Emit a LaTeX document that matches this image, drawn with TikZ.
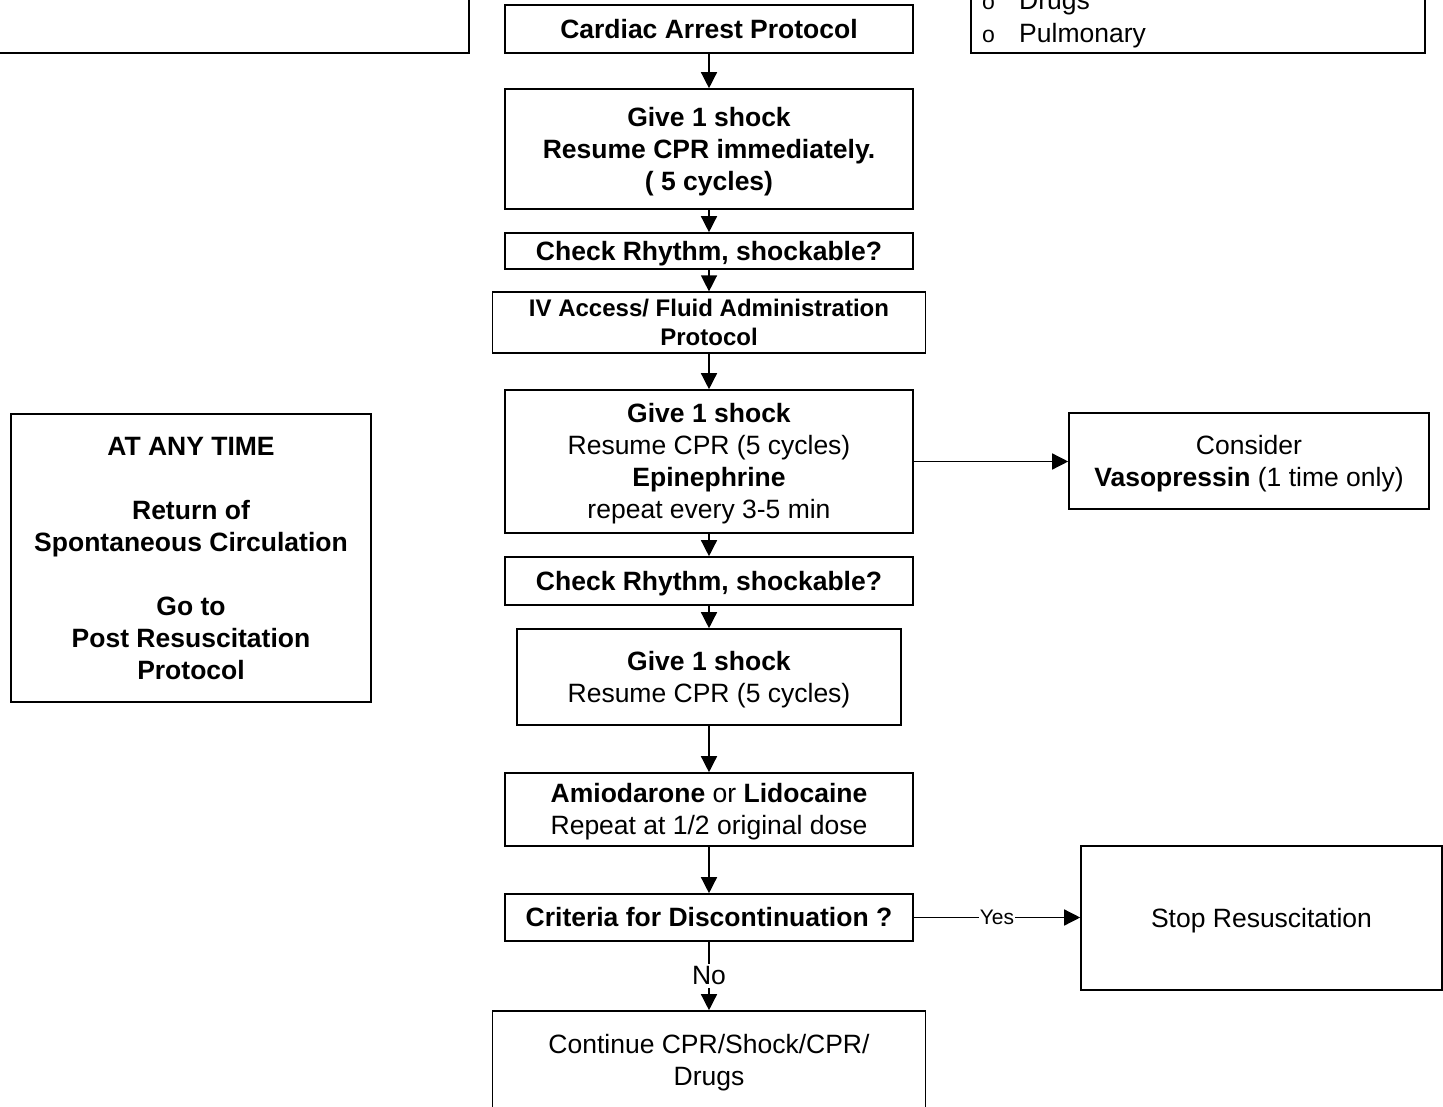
\documentclass[tikz,border=0pt]{standalone}
\usepackage{fontspec}
\setmainfont{Liberation Sans}
\usetikzlibrary{arrows.meta}
\newcommand\bodyfont{\fontsize{26.5}{32}\selectfont}
\newcommand\ivfont{\fontsize{24}{29}\selectfont}
\newcommand\yesfont{\fontsize{21}{25}\selectfont}
\newcommand\bulfont{\fontsize{23}{28}\selectfont}
% invisible rules that centre the capitals of a text block in its box
\newcommand\capstrutabove{\rule{0pt}{1.016em}}
\newcommand\capstrutbelow{\rule[-0.3em]{0pt}{0.3em}}

\begin{document}
\begin{tikzpicture}[x=1pt,y=-1pt,
  box/.style={draw, line width=1.6pt, rectangle, inner sep=0pt, align=center, font=\bodyfont,
    execute at begin node=\capstrutabove, execute at end node=\capstrutbelow},
  arr/.style={-{Triangle[length=16pt,width=16pt]}, line width=1.4pt},
  lbl/.style={fill=white, inner sep=2pt},
  item/.style={anchor=base west, inner sep=0pt, font=\bodyfont}]
\useasboundingbox (0,0) rectangle (1443,1107);
\clip (0,0) rectangle (1443,1107);

% boxes running off the top edge
\node[box, minimum width=479pt, minimum height=113pt] (notes) at (229.5,-3.5) {};
\node[box, minimum width=454pt, minimum height=113pt] (causes) at (1198,-3.5) {};
\node[item, font=\bulfont] (bulA) at (982,10) {o};
\node[item] (drugs) at (1019,10) {Drugs};
\node[item, font=\bulfont] (bulB) at (982,43) {o};
\node[item] (pulm) at (1019,43) {Pulmonary};

% main column
\node[box, font=\bodyfont\bfseries, minimum width=408pt, minimum height=48pt] (cap) at (709,29) {Cardiac Arrest Protocol};
\node[box, font=\bodyfont\bfseries, minimum width=408pt, minimum height=120pt] (give1) at (709,149) {\capstrutabove Give 1 shock\\Resume CPR immediately.\\( 5 cycles)};
\node[box, font=\bodyfont\bfseries, minimum width=408pt, minimum height=36pt] (chk1) at (709,251) {Check Rhythm, shockable?};
\node[box, font=\ivfont\bfseries, minimum width=433pt, minimum height=59pt] (iv) at (709,322.5) {\capstrutabove IV Access/ Fluid Administration\\Protocol};
\node[box, minimum width=408pt, minimum height=143pt] (give2) at (709,461.5) {\capstrutabove\textbf{Give 1 shock}\\Resume CPR (5 cycles)\\\textbf{Epinephrine}\\repeat every 3-5 min};
\node[box, font=\bodyfont\bfseries, minimum width=408pt, minimum height=48pt] (chk2) at (709,581) {Check Rhythm, shockable?};
\node[box, minimum width=384pt, minimum height=96pt] (give3) at (709,677) {\capstrutabove\textbf{Give 1 shock}\\Resume CPR (5 cycles)};
\node[box, minimum width=408pt, minimum height=73pt] (amio) at (709,809.5) {\capstrutabove\textbf{Amiodarone} or \textbf{Lidocaine}\\Repeat at 1/2 original dose};
\node[box, font=\bodyfont\bfseries, minimum width=408pt, minimum height=47pt] (crit) at (709,917.5) {Criteria for Discontinuation ?};
\node[box, minimum width=433pt, minimum height=98pt] (cont) at (709,1060) {\capstrutabove Continue CPR/Shock/CPR/\\Drugs};

% side boxes
\node[box, minimum width=360pt, minimum height=96pt] (vaso) at (1249,461) {\capstrutabove Consider\\\textbf{Vasopressin} (1 time only)};
\node[box, minimum width=361pt, minimum height=144pt] (stop) at (1261.5,918) {Stop Resuscitation};
\node[box, font=\bodyfont\bfseries, minimum width=360pt, minimum height=288pt] (rosc) at (191,558) {\capstrutabove AT ANY TIME\\[32pt]Return of\\Spontaneous Circulation\\[32pt]Go to\\Post Resuscitation\\Protocol};

% connectors
\draw[arr] (cap.south) -- (give1.north);
\draw[arr] (give1.south) -- (chk1.north);
\draw[arr] (chk1.south) -- (iv.north);
\draw[arr] (iv.south) -- (give2.north);
\draw[arr] (give2.south) -- (chk2.north);
\draw[arr] (chk2.south) -- (give3.north);
\draw[arr] (give3.south) -- (amio.north);
\draw[arr] (amio.south) -- (crit.north);
\draw[arr] (give2.east) -- (give2.east -| vaso.west);
\draw[arr] (crit.east) -- (crit.east -| stop.west);
\draw[arr] (crit.south) -- (cont.north);

% branch labels, set over their connectors
\path (crit.east) -- node[lbl, font=\yesfont, inner sep=1pt] (yes) {Yes} (crit.east -| stop.west);
\path (crit.south) -- node[lbl, font=\bodyfont, inner sep=3pt] (no) {No} (cont.north);
\end{tikzpicture}
\end{document}
